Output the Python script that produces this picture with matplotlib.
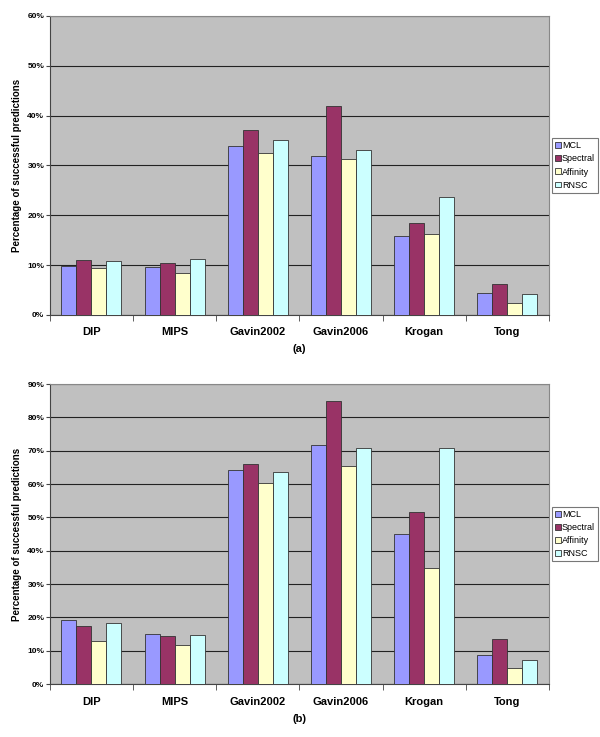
import numpy as np
import matplotlib.pyplot as plt
from matplotlib.ticker import FixedLocator, NullFormatter

plt.rcParams['font.family'] = ['Liberation Sans', 'DejaVu Sans']

categorias = ["DIP", "MIPS", "Gavin2002", "Gavin2006", "Krogan", "Tong"]
metodos = ["MCL", "Spectral", "Affinity", "RNSC"]
colores = ["#9999FF", "#993366", "#FFFFCC", "#CCFFFF"]

# panel (a), porcentaje
a_mcl = [9.8, 9.6, 33.9, 32.0, 15.8, 4.4]
a_spectral = [11.0, 10.4, 37.2, 42.0, 18.4, 6.2]
a_affinity = [9.4, 8.4, 32.6, 31.3, 16.2, 2.5]
a_rnsc = [10.8, 11.3, 35.2, 33.1, 23.7, 4.3]

# panel (b), porcentaje
b_mcl = [19.2, 14.9, 64.3, 71.7, 45.1, 8.8]
b_spectral = [17.3, 14.4, 66.1, 85.0, 51.7, 13.5]
b_affinity = [13.0, 11.6, 60.3, 65.5, 34.8, 4.8]
b_rnsc = [18.3, 14.7, 63.6, 70.9, 70.9, 7.3]


def panel(ax, series, ymax, letra, fig_y):
    x = np.arange(len(categorias))
    w = 0.18
    for i, (vals, c, nombre) in enumerate(zip(series, colores, metodos)):
        ax.bar(x + (i - 1.5) * w, vals, w, color=c, edgecolor="#333333",
               linewidth=0.6, label=nombre, zorder=3)
    ax.set_facecolor("#C0C0C0")
    ax.set_xlim(-0.5, len(categorias) - 0.5)
    ax.set_ylim(0, ymax)
    yt = np.arange(0, ymax + 1, 10)
    ax.set_yticks(yt)
    ax.set_yticklabels([f"{v}%" for v in yt], fontsize=6, fontweight="bold")
    ax.yaxis.grid(True, color="#222222", linewidth=0.8, zorder=1)
    ax.set_axisbelow(True)
    ax.set_xticks(x)
    ax.set_xticklabels(categorias, fontsize=8, fontweight="bold")
    ax.tick_params(axis="x", length=0, pad=9)
    ax.xaxis.set_minor_locator(FixedLocator(np.arange(-0.5, len(categorias), 1)))
    ax.xaxis.set_minor_formatter(NullFormatter())
    ax.tick_params(axis="x", which="minor", length=4, color="#444444")
    ax.tick_params(axis="y", length=3, color="#444444", pad=1)
    for s in ["top", "right"]:
        ax.spines[s].set_color("#888888")
    ax.spines["left"].set_color("#444444")
    ax.spines["bottom"].set_color("#444444")
    ax.set_ylabel("Percentage of successful predictions", fontsize=7,
                  fontweight="bold", labelpad=4)
    leg = ax.legend(loc="center left", bbox_to_anchor=(1.006, 0.5), fontsize=6.5,
                    frameon=True, fancybox=False, edgecolor="#555555",
                    handlelength=0.6, handleheight=0.6, handletextpad=0.15,
                    borderpad=0.35, labelspacing=0.45, borderaxespad=0)
    leg.get_frame().set_linewidth(0.8)
    fig.text(0.5 * (0.083 + 0.915), fig_y, letra, ha="center", fontsize=8,
             fontweight="bold")


fig = plt.figure(figsize=(6, 7.37), dpi=100)
ax1 = fig.add_axes([0.083, 0.5726, 0.832, 0.4057])
ax2 = fig.add_axes([0.083, 0.0719, 0.832, 0.407])

panel(ax1, [a_mcl, a_spectral, a_affinity, a_rnsc], 60, "(a)", 1 - 352 / 737)
panel(ax2, [b_mcl, b_spectral, b_affinity, b_rnsc], 90, "(b)", 1 - 722 / 737)

fig.savefig("out.png", dpi=100)
